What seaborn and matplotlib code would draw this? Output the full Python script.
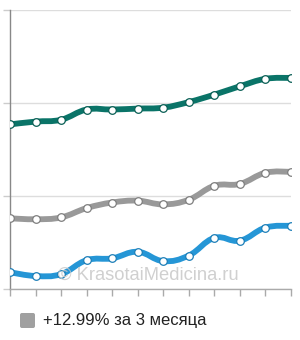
import numpy as np
import pandas as pd
import matplotlib
matplotlib.use("Agg")
import matplotlib.pyplot as plt
from matplotlib.path import Path
from matplotlib.patches import PathPatch, FancyBboxPatch
import seaborn as sns

# ---- data ----
months = list(range(12))
teal = [1.77, 1.80, 1.82, 1.93, 1.93, 1.94, 1.95, 2.01, 2.09, 2.18, 2.26, 2.27]
gray = [0.76, 0.75, 0.77, 0.87, 0.93, 0.95, 0.91, 0.96, 1.11, 1.13, 1.25, 1.26]
blue = [0.18, 0.14, 0.16, 0.31, 0.33, 0.40, 0.30, 0.36, 0.55, 0.52, 0.66, 0.68]
series_names = ["teal", "gray", "blue"]
legend_label = "+12.99% за 3 месяца"
watermark = "© KrasotaiMedicina.ru"

colors = {"teal": "#0a7468", "gray": "#999999", "blue": "#2596d6"}
edge = {"teal": "#0a5f55", "gray": "#7f7f7f", "blue": "#1d7fb8"}

sns.set_theme(style="white")
plt.rcParams["font.family"] = ["Liberation Sans", "DejaVu Sans"]

fig = plt.figure(figsize=(3.0, 3.4), dpi=100)
ax = fig.add_axes([10 / 300, (340 - 289) / 340, 281 / 300, 279 / 340])

df = pd.DataFrame({"month": months * 3,
                   "value": teal + gray + blue,
                   "series": sum([[n] * 12 for n in series_names], [])})


def smooth_path(xs, ys, t=0.2):
    xs = np.asarray(xs, float); ys = np.asarray(ys, float)
    verts = [(xs[0], ys[0])]; codes = [Path.MOVETO]
    n = len(xs)
    for i in range(n - 1):
        x0, y0 = xs[max(i - 1, 0)], ys[max(i - 1, 0)]
        x1, y1 = xs[i], ys[i]
        x2, y2 = xs[i + 1], ys[i + 1]
        x3, y3 = xs[min(i + 2, n - 1)], ys[min(i + 2, n - 1)]
        c1 = (x1 + (x2 - x0) * t, y1 + (y2 - y0) * t)
        c2 = (x2 - (x3 - x1) * t, y2 - (y3 - y1) * t)
        verts += [c1, c2, (x2, y2)]
        codes += [Path.CURVE4] * 3
    return Path(verts, codes)


for name in series_names:
    sub = df[df.series == name]
    ax.add_patch(PathPatch(smooth_path(sub.month, sub.value), facecolor="none",
                           edgecolor=colors[name], lw=4.2, capstyle="round",
                           joinstyle="round", zorder=3))
    sns.scatterplot(data=sub, x="month", y="value", ax=ax, color="white",
                    edgecolor=edge[name], linewidth=0.9, s=30, zorder=4,
                    legend=False)

ax.set_xlim(0, 11)
ax.set_ylim(0, 3)
ax.set_yticks([0, 1, 2, 3])
ax.set_xticks(months)
ax.set_xticklabels([])
ax.set_yticklabels([])
ax.set_xlabel(""); ax.set_ylabel("")
ax.grid(axis="y", color="#dddddd", lw=1)
ax.grid(axis="x", visible=False)
for s in ["top", "right"]:
    ax.spines[s].set_visible(False)
ax.spines["left"].set_color("#888888")
ax.spines["bottom"].set_color("#aaaaaa")
ax.spines["left"].set_linewidth(1)
ax.spines["bottom"].set_linewidth(1)
ax.tick_params(axis="x", length=5, color="#aaaaaa", width=1, direction="out", bottom=True)
ax.tick_params(axis="y", length=5, color="#cccccc", width=1, direction="out", left=True)

ax.text((148 - 10) / 281, (289 - 280) / 279, watermark, transform=ax.transAxes,
        ha="center", va="baseline", fontsize=13.2, color="#c8c8c8",
        alpha=0.85, zorder=5)

fig.patches.append(FancyBboxPatch((20 / 300, 1 - 328 / 340), 15 / 300, 15 / 340,
                                  boxstyle="round,pad=0,rounding_size=0.006",
                                  transform=fig.transFigure, facecolor="#a0a0a0",
                                  edgecolor="none"))
fig.text(43 / 300, 1 - 321 / 340, legend_label, ha="left", va="center",
         fontsize=12, color="#222222")

fig.savefig("out.png", dpi=100)
